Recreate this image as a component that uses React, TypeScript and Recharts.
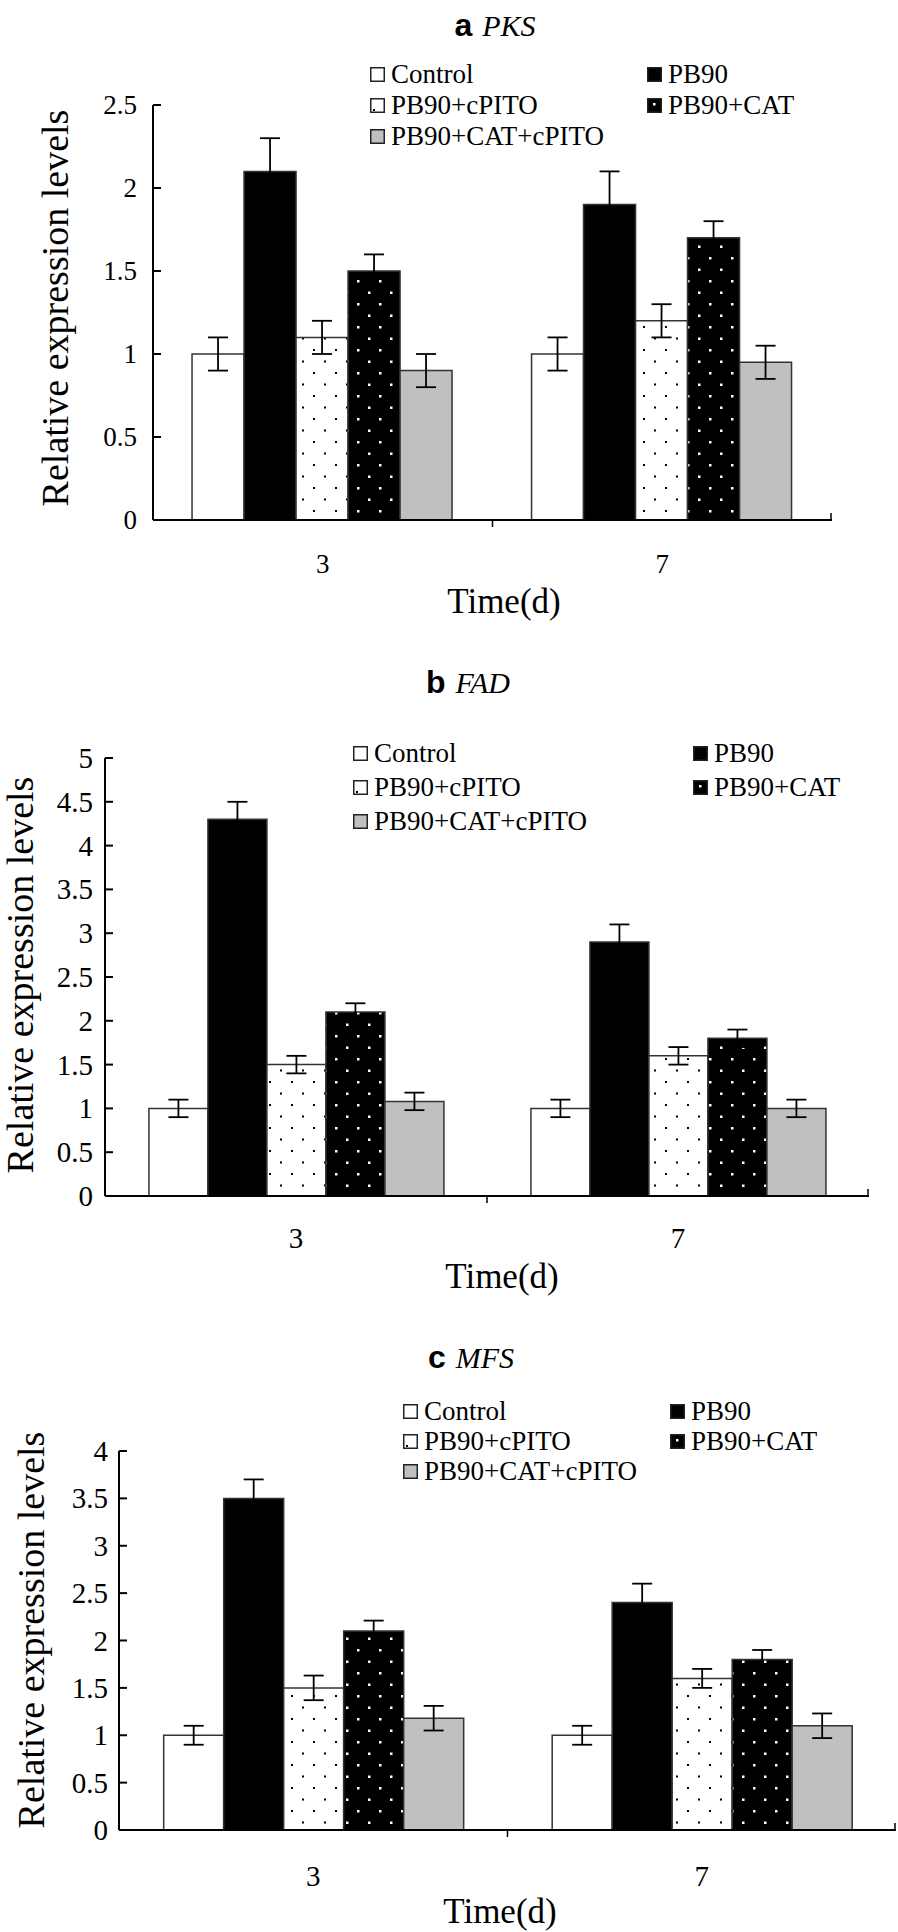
import React from 'react';
import { BarChart, Bar, XAxis, YAxis, ErrorBar } from 'recharts';

// time points and treatment groups
const days = ['3', '7'];
const groups = ['Control', 'PB90', 'PB90+cPITO', 'PB90+CAT', 'PB90+CAT+cPITO'];

// a  PKS
const pksDay3 = [1.0, 2.1, 1.1, 1.5, 0.9];
const pksDay7 = [1.0, 1.9, 1.2, 1.7, 0.95];
const pksErr3 = [0.1, 0.2, 0.1, 0.1, 0.1];
const pksErr7 = [0.1, 0.2, 0.1, 0.1, 0.1];
const pksTicks = [0, 0.5, 1, 1.5, 2, 2.5];

// b  FAD
const fadDay3 = [1.0, 4.3, 1.5, 2.1, 1.08];
const fadDay7 = [1.0, 2.9, 1.6, 1.8, 1.0];
const fadErr3 = [0.1, 0.2, 0.1, 0.1, 0.1];
const fadErr7 = [0.1, 0.2, 0.1, 0.1, 0.1];
const fadTicks = [0, 0.5, 1, 1.5, 2, 2.5, 3, 3.5, 4, 4.5, 5];

// c  MFS
const mfsDay3 = [1.0, 3.5, 1.5, 2.1, 1.18];
const mfsDay7 = [1.0, 2.4, 1.6, 1.8, 1.1];
const mfsErr3 = [0.1, 0.2, 0.13, 0.11, 0.13];
const mfsErr7 = [0.1, 0.2, 0.1, 0.1, 0.13];
const mfsTicks = [0, 0.5, 1, 1.5, 2, 2.5, 3, 3.5, 4];

const SERIF = '"Liberation Serif", "Times New Roman", serif';
const SANS = '"Liberation Sans", Arial, sans-serif';
const W = 898;

const buildRows = (d3: number[], d7: number[], e3: number[], e7: number[]) =>
  days.map((day, i) => {
    const row: any = { day };
    groups.forEach((_, j) => {
      row['v' + j] = (i === 0 ? d3 : d7)[j];
      row['e' + j] = (i === 0 ? e3 : e7)[j];
    });
    return row;
  });

const panels = [
  {
    id: 'a', gene: 'PKS', rows: buildRows(pksDay3, pksDay7, pksErr3, pksErr7), ticks: pksTicks,
    top: 0, height: 640, axisX: 153, plotRight: 832, plotTop: 105, zeroY: 520,
    tickFont: 27, tickGap: 16, xTickDy: 44,
    title: { x: 495, y: 25 }, legend: { c1: 370, c2: 647, rows: [74, 105, 136] },
    xLabel: { x: 504, y: 601 }, yLabel: { x: 55, y: 308 },
  },
  {
    id: 'b', gene: 'FAD', rows: buildRows(fadDay3, fadDay7, fadErr3, fadErr7), ticks: fadTicks,
    top: 640, height: 660, axisX: 105, plotRight: 869, plotTop: 758, zeroY: 1196,
    tickFont: 29, tickGap: 12, xTickDy: 42,
    title: { x: 468, y: 682 }, legend: { c1: 353, c2: 693, rows: [753, 787, 821] },
    xLabel: { x: 502, y: 1276 }, yLabel: { x: 20, y: 975 },
  },
  {
    id: 'c', gene: 'MFS', rows: buildRows(mfsDay3, mfsDay7, mfsErr3, mfsErr7), ticks: mfsTicks,
    top: 1300, height: 632, axisX: 119, plotRight: 896, plotTop: 1451, zeroY: 1830,
    tickFont: 29, tickGap: 11, xTickDy: 46,
    title: { x: 471, y: 1357 }, legend: { c1: 403, c2: 670, rows: [1411, 1441, 1471] },
    xLabel: { x: 500, y: 1911 }, yLabel: { x: 31, y: 1630 },
  },
];

const fillsFor = (id: string) => ['#ffffff', '#000000', `url(#${id}-wdots)`, `url(#${id}-bdots)`, '#c0c0c0'];

const Swatch = ({ idx }: { idx: number }) => {
  const bg = ['#fff', '#000', '#fff', '#000', '#c0c0c0'][idx];
  return (
    <svg width={15} height={15} style={{ display: 'block' }}>
      <rect x={0.75} y={0.75} width={13.5} height={13.5} fill={bg} stroke="#222" strokeWidth={1.5} />
      {idx === 2 && <rect x={3} y={11} width={2} height={2} fill="#000" />}
      {idx === 3 && <rect x={6} y={5} width={2.5} height={2.5} fill="#fff" />}
    </svg>
  );
};

const Panel = ({ p }: { p: any }) => {
  const fills = fillsFor(p.id);
  const bandHalf = (p.plotRight - p.axisX) / 4;
  const margin = {
    top: p.plotTop - p.top,
    right: W - p.plotRight,
    left: p.axisX - 60,
    bottom: p.top + p.height - p.zeroY - 30,
  };

  const YTick = (props: any) => {
    const { x, y, payload } = props;
    return (
      <g>
        <line x1={x} x2={x + 8} y1={y} y2={y} stroke="#000" strokeWidth={2} />
        <text x={x - p.tickGap} y={y} textAnchor="end" dominantBaseline="central"
          fontFamily={SERIF} fontSize={p.tickFont} fill="#000">{payload.value}</text>
      </g>
    );
  };

  const XTick = (props: any) => {
    const { x, y, payload, index } = props;
    const bx = x + bandHalf;
    return (
      <g>
        {index === 0
          ? <line x1={bx} x2={bx} y1={y} y2={y + 7} stroke="#000" strokeWidth={1.5} />
          : <line x1={bx - 1} x2={bx - 1} y1={y} y2={y - 7} stroke="#000" strokeWidth={1.5} />}
        <text x={x} y={y + p.xTickDy} textAnchor="middle" dominantBaseline="central"
          fontFamily={SERIF} fontSize={p.tickFont} fill="#000">{payload.value}</text>
      </g>
    );
  };

  const legendItems = [
    { idx: 0, x: p.legend.c1, y: p.legend.rows[0] },
    { idx: 1, x: p.legend.c2, y: p.legend.rows[0] },
    { idx: 2, x: p.legend.c1, y: p.legend.rows[1] },
    { idx: 3, x: p.legend.c2, y: p.legend.rows[1] },
    { idx: 4, x: p.legend.c1, y: p.legend.rows[2] },
  ];

  return (
    <div style={{ position: 'absolute', left: 0, top: p.top, width: W, height: p.height }}>
      <BarChart width={W} height={p.height} data={p.rows} margin={margin}
        barGap={0} barCategoryGap="11.5%">
        <defs>
          <pattern id={`${p.id}-wdots`} patternUnits="userSpaceOnUse" width={22} height={23}>
            <rect width={22} height={23} fill="#fff" />
            <rect x={5} y={4} width={2} height={2} fill="#000" />
            <rect x={16} y={15.5} width={2} height={2} fill="#000" />
          </pattern>
          <pattern id={`${p.id}-bdots`} patternUnits="userSpaceOnUse" width={22} height={23}>
            <rect width={22} height={23} fill="#000" />
            <rect x={5} y={4} width={2.5} height={2.5} fill="#fff" />
            <rect x={16} y={15.5} width={2.5} height={2.5} fill="#fff" />
          </pattern>
        </defs>
        <XAxis dataKey="day" height={30} tickLine={false} tickSize={0} tickMargin={0}
          axisLine={{ stroke: '#000', strokeWidth: 2 }} tick={<XTick />} interval={0} />
        <YAxis width={60} domain={[0, p.ticks[p.ticks.length - 1]]} ticks={p.ticks}
          tickLine={false} tickSize={0} tickMargin={0} allowDataOverflow
          axisLine={{ stroke: '#000', strokeWidth: 2 }} tick={<YTick />} interval={0} />
        {groups.map((g, j) => (
          <Bar key={g} dataKey={'v' + j} name={g} fill={fills[j]} stroke="#333" strokeWidth={1.5}
            isAnimationActive={false}>
            <ErrorBar dataKey={'e' + j} width={10} stroke="#000" strokeWidth={1.8} direction="y" />
          </Bar>
        ))}
      </BarChart>

      {/* panel title */}
      <div style={{
        position: 'absolute', left: p.title.x, top: p.title.y - p.top, transform: 'translate(-50%, -50%)',
        whiteSpace: 'nowrap', lineHeight: 1,
      }}>
        <span style={{ fontFamily: SANS, fontWeight: 700, fontSize: 32 }}>{p.id}</span>
        <span style={{ fontFamily: SERIF, fontStyle: 'italic', fontSize: 30, marginLeft: 10 }}>{p.gene}</span>
      </div>

      {/* legend */}
      {legendItems.map(it => (
        <div key={it.idx} style={{
          position: 'absolute', left: it.x, top: it.y - p.top - 15, height: 30,
          display: 'flex', alignItems: 'center', whiteSpace: 'nowrap',
        }}>
          <Swatch idx={it.idx} />
          <span style={{ fontFamily: SERIF, fontSize: 27, marginLeft: 6, lineHeight: 1 }}>{groups[it.idx]}</span>
        </div>
      ))}

      {/* axis titles */}
      <div style={{
        position: 'absolute', left: p.xLabel.x, top: p.xLabel.y - p.top, transform: 'translate(-50%, -50%)',
        fontFamily: SERIF, fontSize: 35, whiteSpace: 'nowrap', lineHeight: 1,
      }}>Time(d)</div>
      <div style={{
        position: 'absolute', left: p.yLabel.x, top: p.yLabel.y - p.top,
        transform: 'translate(-50%, -50%) rotate(-90deg)',
        fontFamily: SERIF, fontSize: 38, whiteSpace: 'nowrap', lineHeight: 1,
      }}>Relative expression levels</div>
    </div>
  );
}

export default function App() {
  return (
    <div style={{ position: 'absolute', left: 0, top: 0, width: W, height: 1932, background: '#fff' }}>
      {panels.map(p => <Panel key={p.id} p={p} />)}
    </div>
  );
}
